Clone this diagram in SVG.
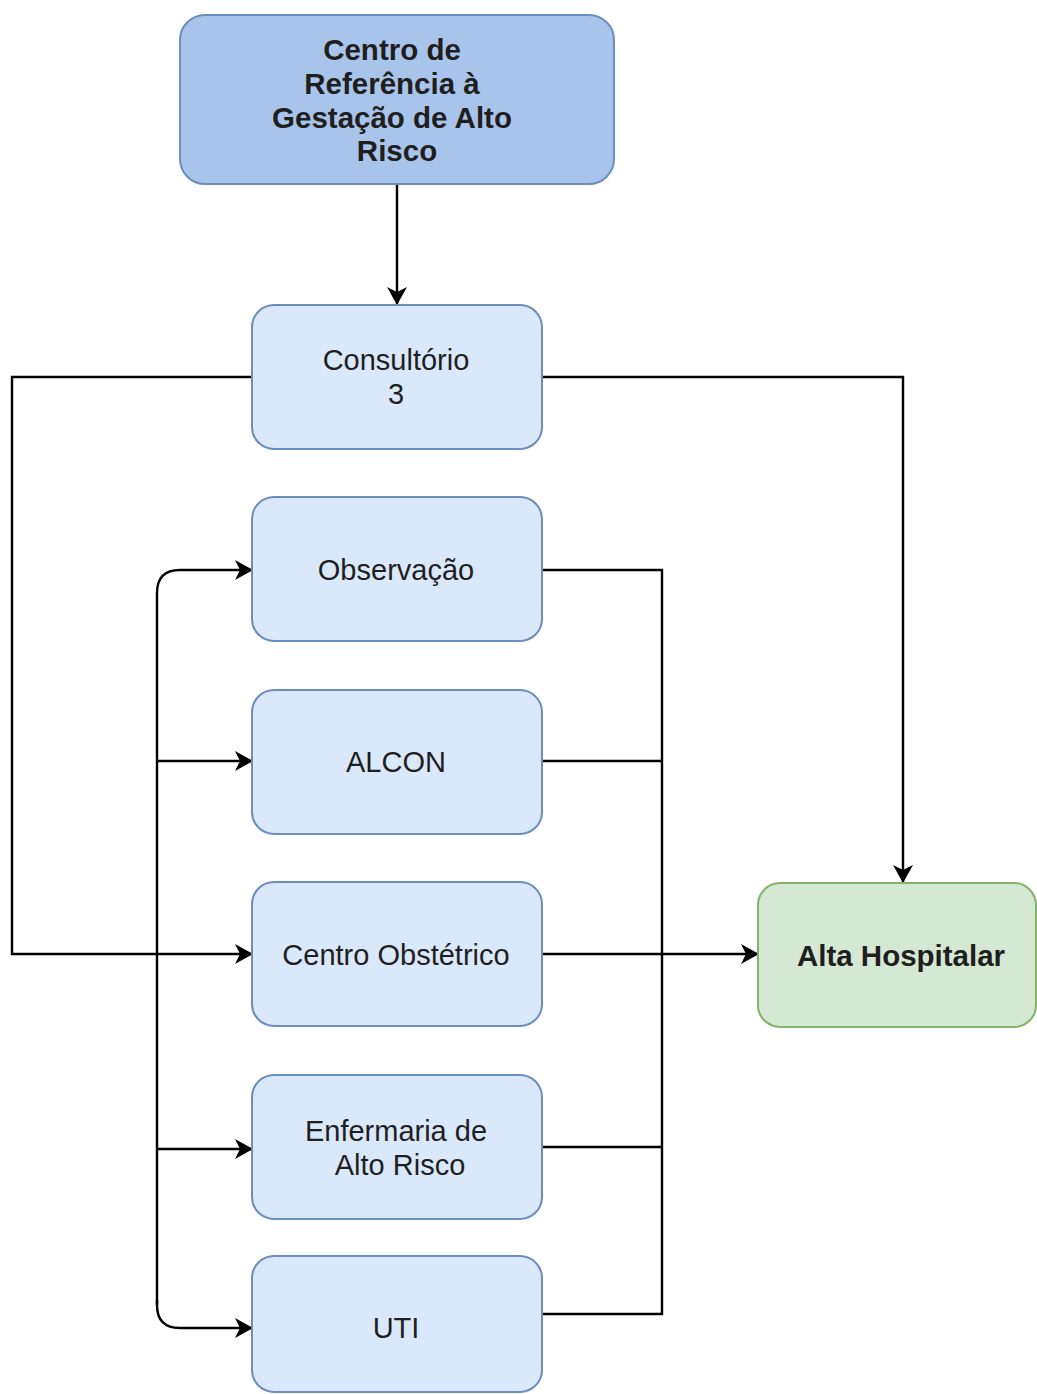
<svg xmlns="http://www.w3.org/2000/svg" width="1037" height="1394" viewBox="0 0 1037 1394">
  <style>
    .blue { fill: #dae8fc; stroke: #6c8ebf; stroke-width: 2; }
    .dark { fill: #a9c4eb; stroke: #6c8ebf; stroke-width: 2; }
    .green { fill: #d5e8d4; stroke: #82b366; stroke-width: 2; }
    text { font-family: "Liberation Sans", Arial, Helvetica, sans-serif; font-size: 29px; fill: #1f1f1f; text-anchor: middle; }
    .b { font-weight: bold; font-size: 29.5px; }
    .edge { fill: none; stroke: #000; stroke-width: 2.4; }
    .arr { marker-end: url(#arrow); }
  </style>
  <defs>
    <marker id="arrow" viewBox="0 0 18 20" refX="17" refY="10" markerWidth="18" markerHeight="20" markerUnits="userSpaceOnUse" orient="auto">
      <path d="M0,0 L18,10 L0,20 L5,10 Z" fill="#000"/>
    </marker>
  </defs>
  <rect width="1037" height="1394" fill="#fff"/>

  <g id="connectors">
    <path class="edge arr" d="M397,184 V304"/>
    <path class="edge arr" d="M252,377 H12 V954 H252"/>
    <path class="edge arr" d="M542,377 H903 V882"/>
    <path class="edge arr" d="M542,954 H758"/>
    <path class="edge" d="M542,570 H662 V1314 H542"/>
    <path class="edge" d="M542,761 H662"/>
    <path class="edge" d="M542,1147 H662"/>
    <path class="edge arr" d="M157,1305 V593 Q157,570 180,570 H252"/>
    <path class="edge arr" d="M157,1300 V1305 Q157,1328 180,1328 H252"/>
    <path class="edge arr" d="M157,761 H252"/>
    <path class="edge arr" d="M157,1149 H252"/>
  </g>

  <g id="centro-referencia">
    <rect class="dark" x="180" y="15" width="434" height="169" rx="25" ry="25"/>
    <text class="b" x="392" y="60">Centro de</text>
    <text class="b" x="392" y="94">Referência à</text>
    <text class="b" x="392" y="128">Gestação de Alto</text>
    <text class="b" x="397" y="161">Risco</text>
  </g>

  <g id="consultorio">
    <rect class="blue" x="252" y="305" width="290" height="144" rx="22" ry="22"/>
    <text x="396" y="370">Consultório</text>
    <text x="396" y="404">3</text>
  </g>

  <g id="observacao">
    <rect class="blue" x="252" y="497" width="290" height="144" rx="22" ry="22"/>
    <text x="396" y="580">Observação</text>
  </g>

  <g id="alcon">
    <rect class="blue" x="252" y="690" width="290" height="144" rx="22" ry="22"/>
    <text x="396" y="772">ALCON</text>
  </g>

  <g id="centro-obstetrico">
    <rect class="blue" x="252" y="882" width="290" height="144" rx="22" ry="22"/>
    <text x="396" y="965">Centro Obstétrico</text>
  </g>

  <g id="enfermaria">
    <rect class="blue" x="252" y="1075" width="290" height="144" rx="22" ry="22"/>
    <text x="396" y="1141">Enfermaria de</text>
    <text x="400" y="1175">Alto Risco</text>
  </g>

  <g id="uti">
    <rect class="blue" x="252" y="1256" width="290" height="136" rx="22" ry="22"/>
    <text x="396" y="1338">UTI</text>
  </g>

  <g id="alta-hospitalar">
    <rect class="green" x="758" y="883" width="278" height="144" rx="22" ry="22"/>
    <text class="b" x="901" y="966">Alta Hospitalar</text>
  </g>
</svg>
